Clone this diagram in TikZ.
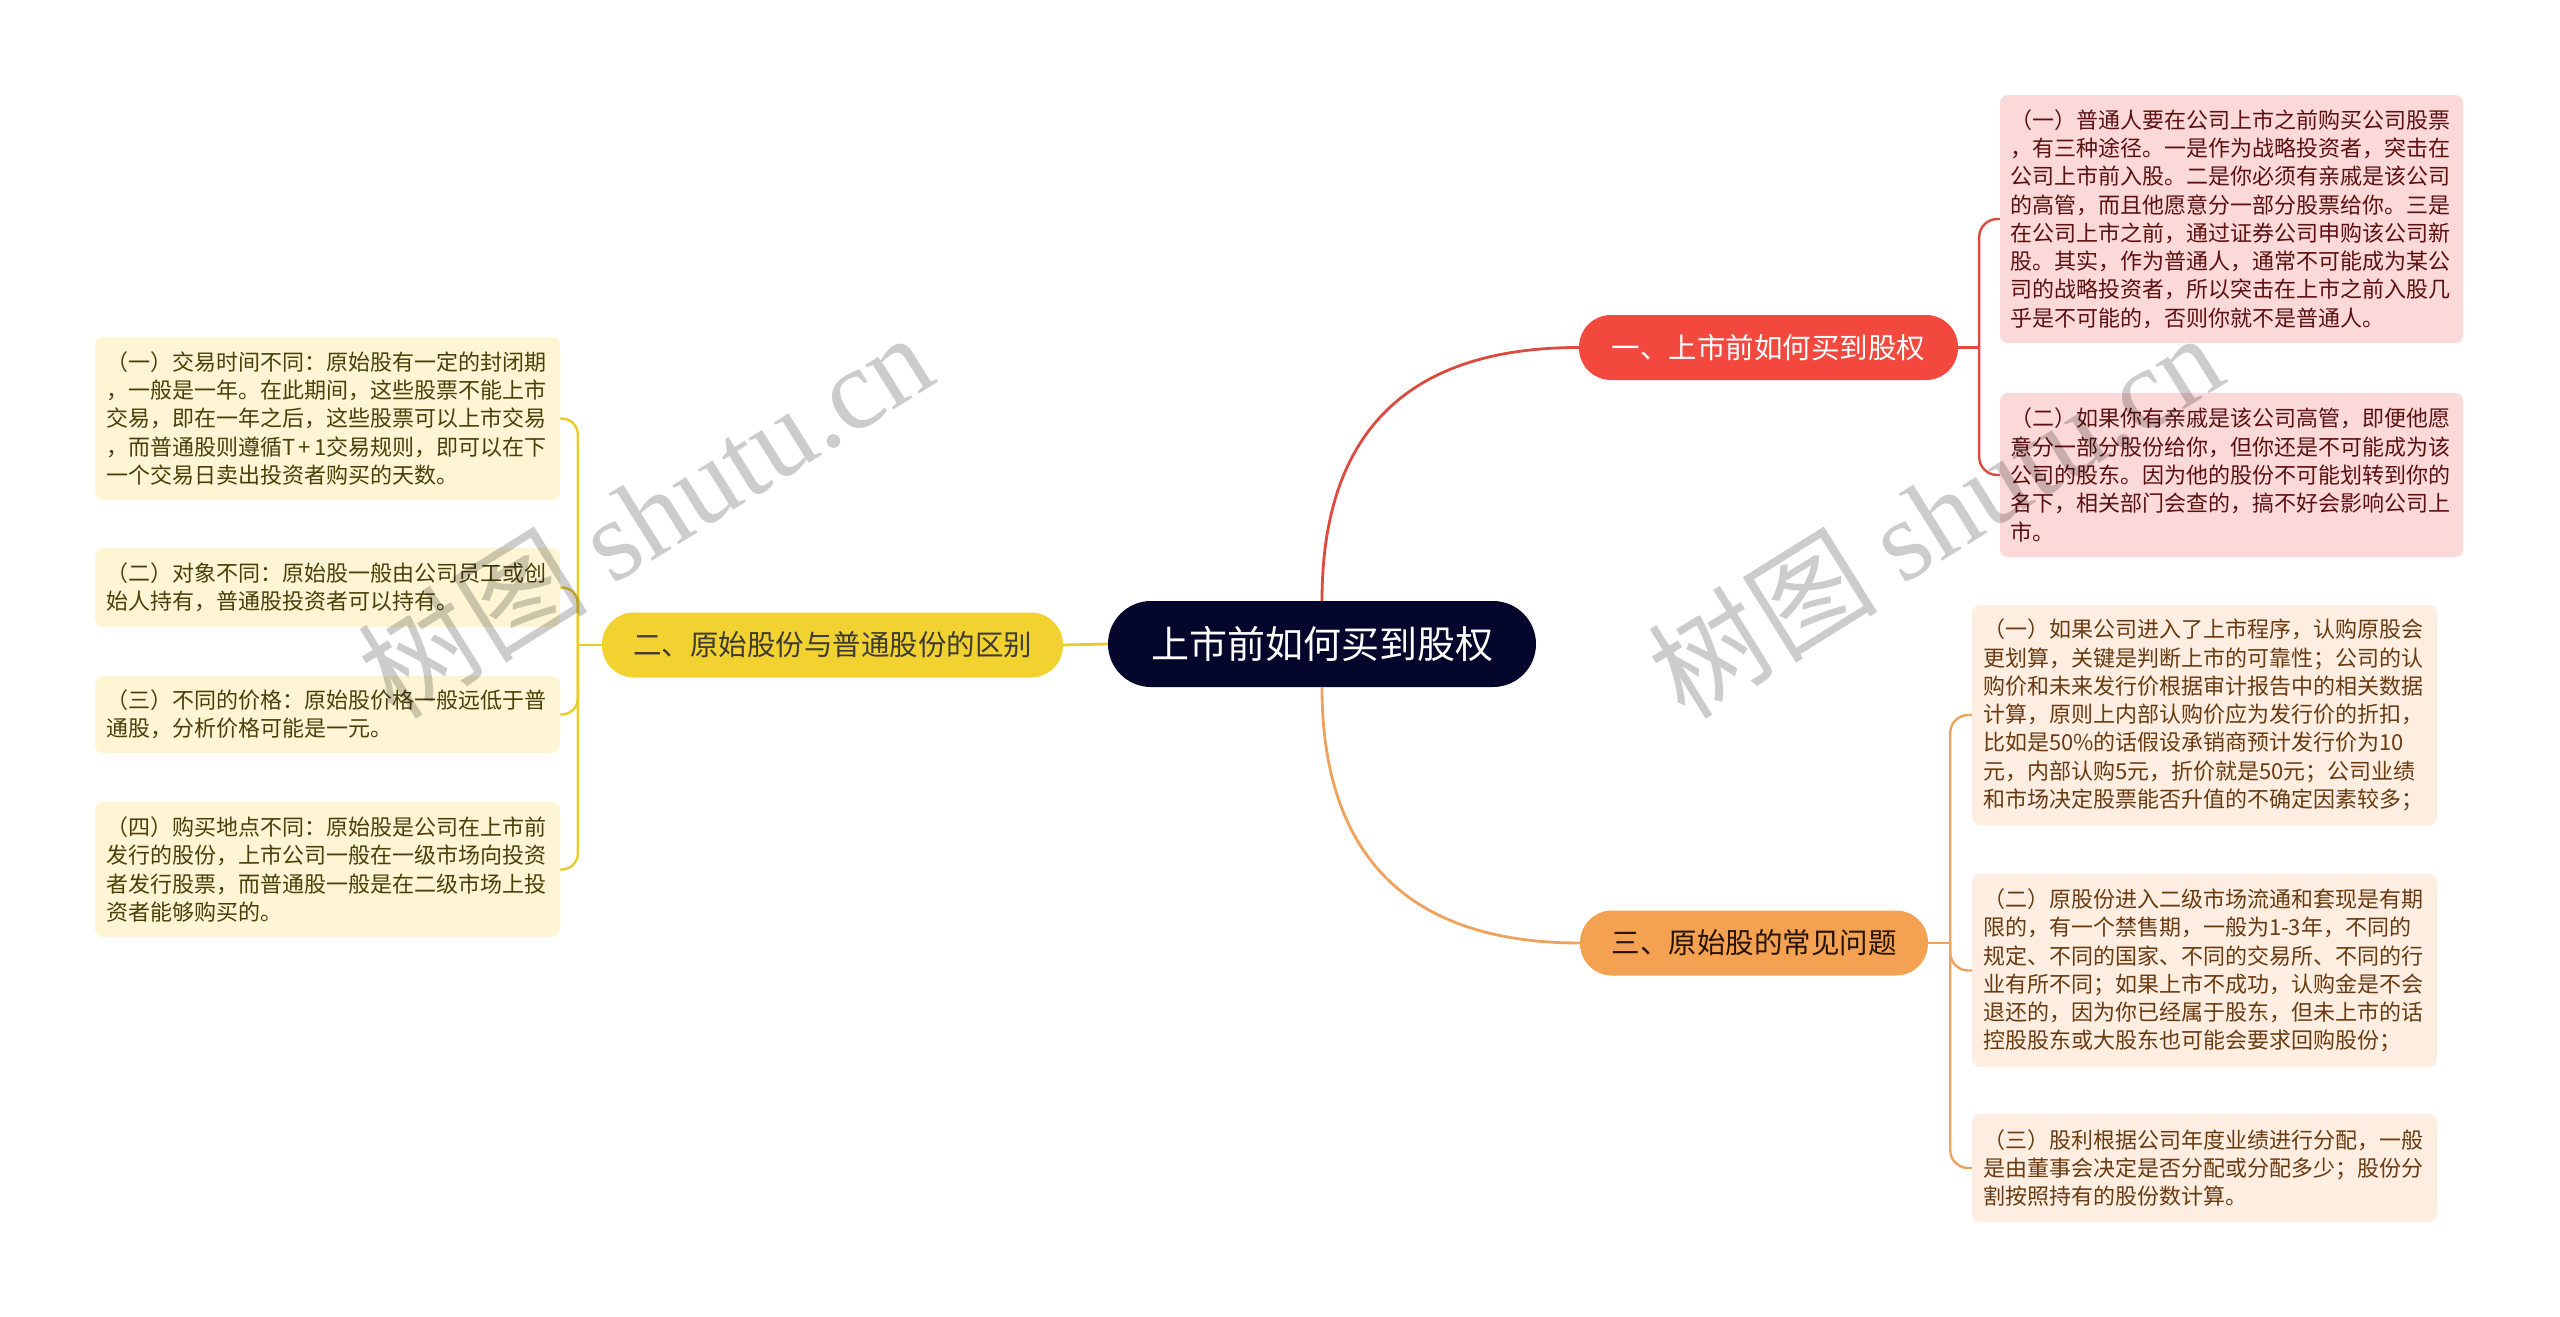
\documentclass[tikz,border=0pt]{standalone}
\usepackage{fontspec}
\newfontfamily\cjk{Noto Sans CJK SC}
\newfontfamily\wmlatin{Liberation Serif}
\definecolor{hubnavy}{HTML}{05062B}
\definecolor{redfill}{HTML}{F2483E}
\definecolor{yelfill}{HTML}{F2D230}
\definecolor{orafill}{HTML}{F4A252}
\definecolor{pinkleaf}{HTML}{FCD9D9}
\definecolor{peachleaf}{HTML}{FDEEE1}
\definecolor{creamleaf}{HTML}{FDF5D3}
\definecolor{redtext}{HTML}{5C1010}
\definecolor{browntext}{HTML}{6A3A10}
\definecolor{olivetext}{HTML}{4A400A}
\definecolor{lnred}{HTML}{DD4A40}
\definecolor{lnyel}{HTML}{EACB2C}
\definecolor{lnora}{HTML}{EEA25C}
\begin{document}
\begin{tikzpicture}[x=1pt,y=-1pt,
  mainbox/.style={fill=hubnavy, text=white, rounded corners=43pt, minimum width=428pt, minimum height=86pt, inner sep=0pt, font=\cjk\fontsize{38}{40}\selectfont},
  branchbox/.style={rounded corners=32pt, minimum height=65pt, inner sep=0pt, font=\cjk\fontsize{28.5}{30}\selectfont},
  leafbox/.style={rounded corners=8pt, align=left, text width=443pt, inner xsep=10pt, inner ysep=0pt, font=\cjk\fontsize{22}{28.3}\selectfont},
  pinkbox/.style={leafbox, fill=pinkleaf, text=redtext},
  peachbox/.style={leafbox, fill=peachleaf, text=browntext, inner xsep=11pt},
  creambox/.style={leafbox, fill=creamleaf, text=olivetext, inner xsep=11pt},
  redconn/.style={draw=lnred, line width=2.8pt},
  yelconn/.style={draw=lnyel, line width=2.8pt},
  oraconn/.style={draw=lnora, line width=2.8pt},
  watermark/.style={text=black, text opacity=0.2, rotate=32, inner sep=0pt}
]
\useasboundingbox (0,0) rectangle (2560,1317);

% central and branch nodes
\node[mainbox] (c) at (1322,644) {上市前如何买到股权};
\node[branchbox, fill=redfill, text=white, minimum width=379pt] (b1) at (1768.5,347.5) {一、上市前如何买到股权};
\node[branchbox, fill=yelfill, text=black!80!yellow!60!black, minimum width=461pt] (b2) at (832.5,645) {二、原始股份与普通股份的区别};
\node[branchbox, fill=orafill, text=black!85!orange, minimum width=348pt] (b3) at (1754,943) {三、原始股的常见问题};

% leaves of branch 1
\node[pinkbox, minimum height=248pt] (l1a) at (2231.5,219) {（一）普通人要在公司上市之前购买公司股票\\，有三种途径。一是作为战略投资者，突击在\\公司上市前入股。二是你必须有亲戚是该公司\\的高管，而且他愿意分一部分股票给你。三是\\在公司上市之前，通过证券公司申购该公司新\\股。其实，作为普通人，通常不可能成为某公\\司的战略投资者，所以突击在上市之前入股几\\乎是不可能的，否则你就不是普通人。};
\node[pinkbox, minimum height=164pt] (l1b) at (2231.5,475) {（二）如果你有亲戚是该公司高管，即便他愿\\意分一部分股份给你，但你还是不可能成为该\\公司的股东。因为他的股份不可能划转到你的\\名下，相关部门会查的，搞不好会影响公司上\\市。};

% leaves of branch 3
\node[peachbox, minimum height=220pt] (l3a) at (2204.5,715) {（一）如果公司进入了上市程序，认购原股会\\更划算，关键是判断上市的可靠性；公司的认\\购价和未来发行价根据审计报告中的相关数据\\计算，原则上内部认购价应为发行价的折扣，\\比如是50\%的话假设承销商预计发行价为10\\元，内部认购5元，折价就是50元；公司业绩\\和市场决定股票能否升值的不确定因素较多；};
\node[peachbox, minimum height=193pt] (l3b) at (2204.5,970.5) {（二）原股份进入二级市场流通和套现是有期\\限的，有一个禁售期，一般为1-3年，不同的\\规定、不同的国家、不同的交易所、不同的行\\业有所不同；如果上市不成功，认购金是不会\\退还的，因为你已经属于股东，但未上市的话\\控股股东或大股东也可能会要求回购股份；};
\node[peachbox, minimum height=108pt] (l3c) at (2204.5,1168) {（三）股利根据公司年度业绩进行分配，一般\\是由董事会决定是否分配或分配多少；股份分\\割按照持有的股份数计算。};

% leaves of branch 2
\node[creambox, minimum height=163pt] (l2a) at (327.5,418.5) {（一）交易时间不同：原始股有一定的封闭期\\，一般是一年。在此期间，这些股票不能上市\\交易，即在一年之后，这些股票可以上市交易\\，而普通股则遵循T\,+\,1交易规则，即可以在下\\一个交易日卖出投资者购买的天数。};
\node[creambox, minimum height=79pt] (l2b) at (327.5,587.5) {（二）对象不同：原始股一般由公司员工或创\\始人持有，普通股投资者可以持有。};
\node[creambox, minimum height=77pt] (l2c) at (327.5,714.5) {（三）不同的价格：原始股价格一般远低于普\\通股，分析价格可能是一元。};
\node[creambox, minimum height=135pt] (l2d) at (327.5,869.5) {（四）购买地点不同：原始股是公司在上市前\\发行的股份，上市公司一般在一级市场向投资\\者发行股票，而普通股一般是在二级市场上投\\资者能够购买的。};

% main connectors
\draw[redconn] (c.north) .. controls +(0,-160) and +(-180,0) .. (b1.west);
\draw[oraconn] (c.south) .. controls +(0,160) and +(-180,0) .. (b3.west);
\draw[yelconn] (c.west) -- (b2.east);

% branch 1 bracket
\coordinate (j1) at ([xshift=21pt]b1.east);
\draw[redconn, line width=2.4pt] (b1.east) -- (j1);
\draw[redconn, line width=2.4pt, rounded corners=18pt] (j1) |- (l1a.west);
\draw[redconn, line width=2.4pt, rounded corners=18pt] (j1) |- (l1b.west);

% branch 3 bracket
\coordinate (j3) at ([xshift=22pt]b3.east);
\draw[oraconn, line width=2.4pt] (b3.east) -- (j3);
\draw[oraconn, line width=2.4pt, rounded corners=18pt] (j3) |- (l3a.west);
\draw[oraconn, line width=2.4pt, rounded corners=18pt] (j3) |- (l3b.west);
\draw[oraconn, line width=2.4pt, rounded corners=18pt] (j3) |- (l3c.west);

% branch 2 bracket
\coordinate (j2) at ([xshift=-24pt]b2.west);
\draw[yelconn, line width=2.4pt] (b2.west) -- (j2);
\draw[yelconn, line width=2.4pt, rounded corners=16pt] (j2) |- (l2a.east);
\draw[yelconn, line width=2.4pt, rounded corners=16pt] (j2) |- (l2b.east);
\draw[yelconn, line width=2.4pt, rounded corners=16pt] (j2) |- (l2c.east);
\draw[yelconn, line width=2.4pt, rounded corners=16pt] (j2) |- (l2d.east);

% watermarks
\node[watermark] (wm1) at (645,514) {\fontsize{115}{115}\selectfont\cjk 树图 \wmlatin shutu.cn};
\node[watermark] (wm2) at (1935,514) {\fontsize{115}{115}\selectfont\cjk 树图 \wmlatin shutu.cn};
\end{tikzpicture}
\end{document}
